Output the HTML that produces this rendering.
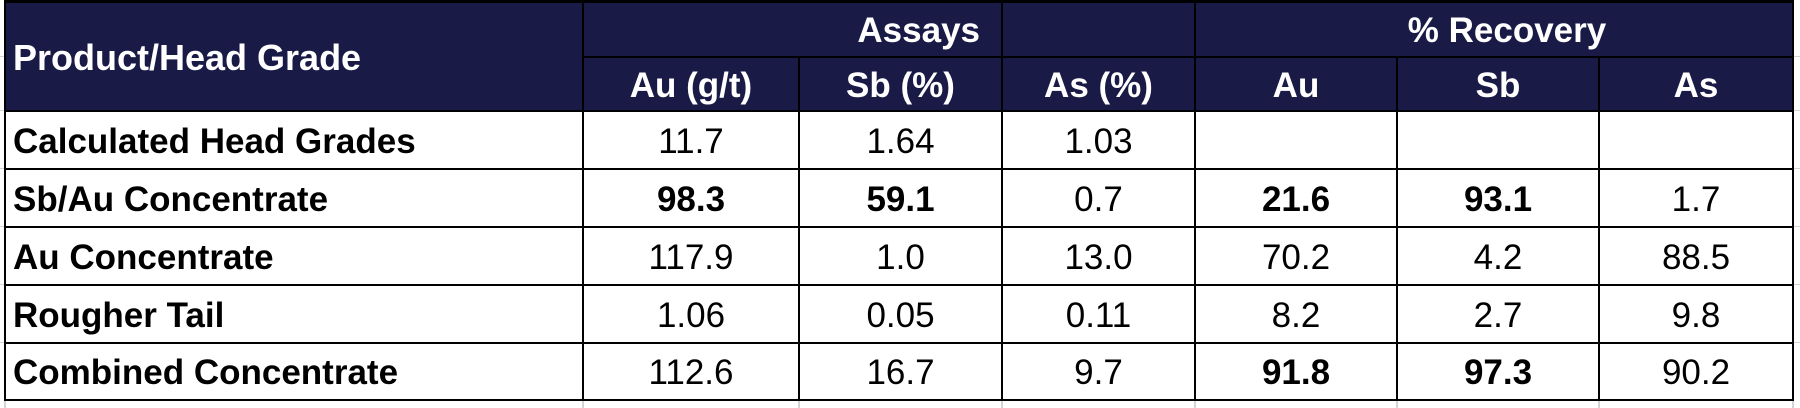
<!DOCTYPE html>
<html>
<head>
<meta charset="utf-8">
<style>
  html,body{margin:0;padding:0;}
  body{width:1800px;height:408px;position:relative;overflow:hidden;background:#fff;
       font-family:"Liberation Sans",Arial,sans-serif;}
  .bg{position:absolute;left:4px;top:0;width:1790px;height:111px;background:#1a1a47;}
  .h{position:absolute;height:2px;background:#000;}
  .v{position:absolute;width:2px;background:#000;}
  .g{position:absolute;background:#d4d4d4;}
  .t{position:absolute;font-size:35px;white-space:nowrap;color:#000;text-align:center;}
  .w{color:#fff;font-weight:bold;}
  .b{font-weight:bold;}
  .l{text-align:left;}
</style>
</head>
<body>
<!-- spreadsheet gridlines outside table -->
<div class="g" style="left:0;top:56px;width:4px;height:1px;"></div>
<div class="g" style="left:0;top:110px;width:4px;height:1px;"></div>
<div class="g" style="left:0;top:168px;width:4px;height:1px;"></div>
<div class="g" style="left:0;top:226px;width:4px;height:1px;"></div>
<div class="g" style="left:0;top:284px;width:4px;height:1px;"></div>
<div class="g" style="left:0;top:342px;width:4px;height:1px;"></div>
<div class="g" style="left:1794px;top:56px;width:6px;height:1px;"></div>
<div class="g" style="left:1794px;top:110px;width:6px;height:1px;"></div>
<div class="g" style="left:1794px;top:168px;width:6px;height:1px;"></div>
<div class="g" style="left:1794px;top:226px;width:6px;height:1px;"></div>
<div class="g" style="left:1794px;top:284px;width:6px;height:1px;"></div>
<div class="g" style="left:1794px;top:342px;width:6px;height:1px;"></div>
<div class="g" style="left:4px;top:401px;width:2px;height:7px;"></div>
<div class="g" style="left:582px;top:401px;width:2px;height:7px;"></div>
<div class="g" style="left:798px;top:401px;width:2px;height:7px;"></div>
<div class="g" style="left:1001px;top:401px;width:2px;height:7px;"></div>
<div class="g" style="left:1194px;top:401px;width:2px;height:7px;"></div>
<div class="g" style="left:1396px;top:401px;width:2px;height:7px;"></div>
<div class="g" style="left:1598px;top:401px;width:2px;height:7px;"></div>
<div class="g" style="left:1792px;top:401px;width:2px;height:7px;"></div>

<div class="bg"></div>

<!-- horizontal lines -->
<div class="h" style="left:4px;top:0;width:1790px;height:3px;"></div>
<div class="h" style="left:582px;top:56px;width:1212px;"></div>
<div class="h" style="left:4px;top:110px;width:1790px;"></div>
<div class="h" style="left:4px;top:168px;width:1790px;"></div>
<div class="h" style="left:4px;top:226px;width:1790px;"></div>
<div class="h" style="left:4px;top:284px;width:1790px;"></div>
<div class="h" style="left:4px;top:342px;width:1790px;"></div>
<div class="h" style="left:4px;top:399px;width:1790px;"></div>

<!-- vertical lines full height -->
<div class="v" style="left:4px;top:0;height:401px;"></div>
<div class="v" style="left:582px;top:0;height:401px;"></div>
<div class="v" style="left:1001px;top:0;height:401px;"></div>
<div class="v" style="left:1194px;top:0;height:401px;"></div>
<div class="v" style="left:1792px;top:0;height:401px;"></div>
<!-- vertical lines below header row 1 -->
<div class="v" style="left:798px;top:56px;height:345px;"></div>
<div class="v" style="left:1396px;top:56px;height:345px;"></div>
<div class="v" style="left:1598px;top:56px;height:345px;"></div>

<!-- header -->
<div class="t w l" style="left:13px;top:4px;height:108px;line-height:108px;font-size:36px;">Product/Head Grade</div>
<div class="t w" style="left:840px;top:4px;width:140px;height:54px;line-height:54px;text-align:right;">Assays</div>
<div class="t w" style="left:1196px;top:4px;width:622px;height:54px;line-height:54px;">% Recovery</div>

<div class="t w" style="left:584px;top:59px;width:214px;height:54px;line-height:54px;">Au (g/t)</div>
<div class="t w" style="left:800px;top:59px;width:201px;height:54px;line-height:54px;">Sb (%)</div>
<div class="t w" style="left:1003px;top:59px;width:191px;height:54px;line-height:54px;">As (%)</div>
<div class="t w" style="left:1196px;top:59px;width:200px;height:54px;line-height:54px;">Au</div>
<div class="t w" style="left:1398px;top:59px;width:200px;height:54px;line-height:54px;">Sb</div>
<div class="t w" style="left:1600px;top:59px;width:192px;height:54px;line-height:54px;">As</div>

<!-- row 1 -->
<div class="t b l" style="left:13px;top:113px;height:58px;line-height:58px;">Calculated Head Grades</div>
<div class="t" style="left:584px;top:113px;width:214px;height:58px;line-height:58px;">11.7</div>
<div class="t" style="left:800px;top:113px;width:201px;height:58px;line-height:58px;">1.64</div>
<div class="t" style="left:1003px;top:113px;width:191px;height:58px;line-height:58px;">1.03</div>

<!-- row 2 -->
<div class="t b l" style="left:13px;top:171px;height:58px;line-height:58px;">Sb/Au Concentrate</div>
<div class="t b" style="left:584px;top:171px;width:214px;height:58px;line-height:58px;">98.3</div>
<div class="t b" style="left:800px;top:171px;width:201px;height:58px;line-height:58px;">59.1</div>
<div class="t" style="left:1003px;top:171px;width:191px;height:58px;line-height:58px;">0.7</div>
<div class="t b" style="left:1196px;top:171px;width:200px;height:58px;line-height:58px;">21.6</div>
<div class="t b" style="left:1398px;top:171px;width:200px;height:58px;line-height:58px;">93.1</div>
<div class="t" style="left:1600px;top:171px;width:192px;height:58px;line-height:58px;">1.7</div>

<!-- row 3 -->
<div class="t b l" style="left:13px;top:229px;height:58px;line-height:58px;">Au Concentrate</div>
<div class="t" style="left:584px;top:229px;width:214px;height:58px;line-height:58px;">117.9</div>
<div class="t" style="left:800px;top:229px;width:201px;height:58px;line-height:58px;">1.0</div>
<div class="t" style="left:1003px;top:229px;width:191px;height:58px;line-height:58px;">13.0</div>
<div class="t" style="left:1196px;top:229px;width:200px;height:58px;line-height:58px;">70.2</div>
<div class="t" style="left:1398px;top:229px;width:200px;height:58px;line-height:58px;">4.2</div>
<div class="t" style="left:1600px;top:229px;width:192px;height:58px;line-height:58px;">88.5</div>

<!-- row 4 -->
<div class="t b l" style="left:13px;top:287px;height:58px;line-height:58px;">Rougher Tail</div>
<div class="t" style="left:584px;top:287px;width:214px;height:58px;line-height:58px;">1.06</div>
<div class="t" style="left:800px;top:287px;width:201px;height:58px;line-height:58px;">0.05</div>
<div class="t" style="left:1003px;top:287px;width:191px;height:58px;line-height:58px;">0.11</div>
<div class="t" style="left:1196px;top:287px;width:200px;height:58px;line-height:58px;">8.2</div>
<div class="t" style="left:1398px;top:287px;width:200px;height:58px;line-height:58px;">2.7</div>
<div class="t" style="left:1600px;top:287px;width:192px;height:58px;line-height:58px;">9.8</div>

<!-- row 5 -->
<div class="t b l" style="left:13px;top:344px;height:58px;line-height:58px;">Combined Concentrate</div>
<div class="t" style="left:584px;top:344px;width:214px;height:58px;line-height:58px;">112.6</div>
<div class="t" style="left:800px;top:344px;width:201px;height:58px;line-height:58px;">16.7</div>
<div class="t" style="left:1003px;top:344px;width:191px;height:58px;line-height:58px;">9.7</div>
<div class="t b" style="left:1196px;top:344px;width:200px;height:58px;line-height:58px;">91.8</div>
<div class="t b" style="left:1398px;top:344px;width:200px;height:58px;line-height:58px;">97.3</div>
<div class="t" style="left:1600px;top:344px;width:192px;height:58px;line-height:58px;">90.2</div>
</body>
</html>
